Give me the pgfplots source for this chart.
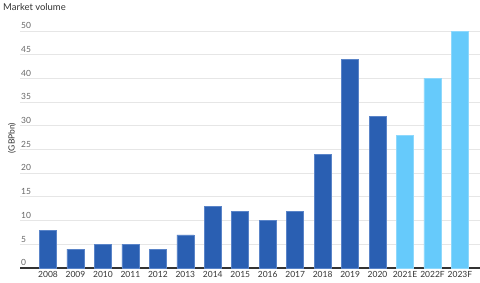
\documentclass[border=0pt]{standalone}
\usepackage{pgfplots}
\pgfplotsset{compat=1.18}
\usepackage{fontspec}
\setmainfont{Lato}
\definecolor{darkbar}{HTML}{2A5FB2}
\definecolor{darkedge}{HTML}{5A84C8}
\definecolor{lightbar}{HTML}{66CAFB}
\definecolor{lightedge}{HTML}{8ED8FC}
\definecolor{gridc}{HTML}{E6E6E6}
\definecolor{tickc}{HTML}{666666}
\definecolor{xlab}{HTML}{333333}
\begin{document}
\begin{tikzpicture}
\path[use as bounding box] (0,0) rectangle (480bp,283bp);
\begin{axis}[
  at={(20bp,15bp)}, anchor=south west,
  scale only axis, width=460bp, height=237bp,
  xmin=-1.02, xmax=15.73, ymin=0, ymax=50,
  axis y line=left, axis x line=bottom,
  y axis line style={draw=none},
  x axis line style={draw=xlab, line width=1.1pt, -},
  ytick={0,5,...,50},
  ymajorgrids, major grid style={draw=gridc, line width=1pt},
  major tick length=0pt,
  xtick={0,...,15},
  xticklabels={2008,2009,2010,2011,2012,2013,2014,2015,2016,2017,2018,2019,2020,2021E,2022F,2023F},
  xticklabel style={font=\fontsize{8.5}{10}\selectfont, text=xlab, inner sep=1pt, yshift=-2pt},
  yticklabel style={font=\fontsize{8.5}{10}\selectfont, text=tickc, anchor=south west, inner sep=1pt, yshift=1pt},
  /pgf/number format/assume math mode=true,
  ybar, bar width=17bp,
  clip=false,
]
\addplot[fill=darkbar, draw=darkedge, line width=0.6pt, bar shift=0pt] coordinates {
(0,8) (1,4) (2,5) (3,5) (4,4) (5,7) (6,13) (7,12) (8,10) (9,12) (10,24) (11,44) (12,32)};
\addplot[fill=lightbar, draw=lightedge, line width=0.6pt, bar shift=0pt] coordinates {
(13,28) (14,40) (15,50)};
\end{axis}
\node[anchor=north west, inner sep=0pt, font=\fontsize{9.5}{11}\selectfont, text=xlab] at (3bp,280bp) {Market volume};
\node[rotate=90, inner sep=0pt, font=\fontsize{8.5}{10}\selectfont, text=xlab] at (12bp,145bp) {(GBPbn)};
\end{tikzpicture}
\end{document}
